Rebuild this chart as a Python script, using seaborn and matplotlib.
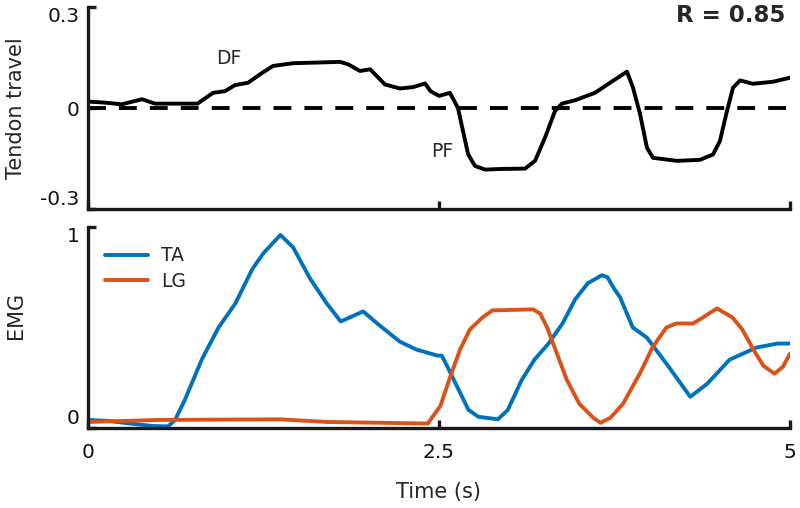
import matplotlib
matplotlib.use("Agg")
import matplotlib.pyplot as plt
import seaborn as sns
import numpy as np

# tendon travel (top panel)
tendon_t = [0.0, 0.12, 0.24, 0.385, 0.477, 0.78, 0.89, 0.976, 1.047, 1.14, 1.225, 1.318,
            1.46, 1.795, 1.852, 1.937, 2.01, 2.115, 2.222, 2.315, 2.40, 2.44, 2.50, 2.578,
            2.635, 2.707, 2.756, 2.828, 2.949, 3.113, 3.184, 3.255, 3.326, 3.376, 3.469,
            3.611, 3.718, 3.839, 3.882, 3.932, 3.981, 4.024, 4.195, 4.359, 4.452, 4.501,
            4.551, 4.594, 4.644, 4.736, 4.879, 5.0]
tendon_v = [0.019, 0.016, 0.011, 0.026, 0.013, 0.013, 0.045, 0.05, 0.068, 0.075, 0.10, 0.125,
            0.133, 0.137, 0.13, 0.11, 0.115, 0.07, 0.058, 0.062, 0.073, 0.05, 0.036, 0.045,
            0.0, -0.137, -0.172, -0.183, -0.181, -0.18, -0.157, -0.088, -0.009, 0.013, 0.023,
            0.045, 0.075, 0.108, 0.06, -0.018, -0.118, -0.148, -0.157, -0.154, -0.138, -0.098,
            -0.009, 0.06, 0.082, 0.072, 0.078, 0.09]

# EMG (bottom panel)
ta_t = [0.0, 0.15, 0.30, 0.46, 0.57, 0.62, 0.69, 0.81, 0.93, 1.05, 1.17, 1.25, 1.37, 1.46,
        1.58, 1.70, 1.80, 1.96, 2.06, 2.22, 2.34, 2.49, 2.52, 2.56, 2.64, 2.71, 2.78, 2.92,
        2.99, 3.09, 3.18, 3.28, 3.38, 3.47, 3.56, 3.66, 3.70, 3.75, 3.79, 3.88, 3.98, 4.12,
        4.29, 4.41, 4.57, 4.76, 4.91, 5.0]
ta_v = [0.04, 0.035, 0.022, 0.01, 0.008, 0.04, 0.14, 0.34, 0.50, 0.62, 0.79, 0.87, 0.96, 0.90,
        0.745, 0.62, 0.53, 0.58, 0.52, 0.43, 0.39, 0.36, 0.36, 0.305, 0.19, 0.09, 0.056, 0.043,
        0.09, 0.24, 0.34, 0.42, 0.52, 0.64, 0.72, 0.76, 0.75, 0.69, 0.65, 0.50, 0.45, 0.32,
        0.155, 0.22, 0.34, 0.40, 0.42, 0.42]

lg_t = [0.0, 0.5, 1.37, 1.70, 2.17, 2.42, 2.51, 2.58, 2.65, 2.72, 2.81, 2.88, 3.17, 3.22,
        3.27, 3.34, 3.41, 3.50, 3.60, 3.65, 3.72, 3.81, 3.93, 4.02, 4.12, 4.19, 4.31, 4.38,
        4.48, 4.59, 4.66, 4.74, 4.81, 4.89, 4.95, 5.0]
lg_v = [0.03, 0.04, 0.043, 0.03, 0.025, 0.022, 0.11, 0.255, 0.39, 0.49, 0.55, 0.585, 0.59, 0.57,
        0.50, 0.37, 0.24, 0.12, 0.05, 0.026, 0.05, 0.12, 0.27, 0.40, 0.50, 0.52, 0.52, 0.55,
        0.595, 0.55, 0.49, 0.39, 0.31, 0.27, 0.305, 0.37]

x_ticks = [0, 2.5, 5]
x_tick_labels = ["0", "2.5", "5"]
tendon_ticks = [-0.3, 0, 0.3]
tendon_tick_labels = ["-0.3", "0", "0.3"]
emg_ticks = [0, 1]
emg_tick_labels = ["0", "1"]

TA_COLOR = "#0072BD"
LG_COLOR = "#D95319"
SPINE = "#1a1a1a"

sns.set_style("ticks")
plt.rcParams["font.family"] = ["DejaVu Sans"]

fig = plt.figure(figsize=(8, 5.08), dpi=100)
ax1 = fig.add_axes([0.11, 0.5886, 0.8775, 0.3976])
ax2 = fig.add_axes([0.11, 0.1575, 0.8775, 0.3957])

# top panel
ax1.axhline(0, color="black", lw=2.8, dashes=(4.6, 3.35), zorder=1)
sns.lineplot(x=tendon_t, y=tendon_v, ax=ax1, color="black", lw=2.8, zorder=2)
ax1.set_xlim(0, 5)
ax1.set_ylim(-0.3, 0.3)
ax1.set_yticks(tendon_ticks)
ax1.set_yticklabels(tendon_tick_labels)
ax1.set_xticks(x_ticks)
ax1.set_xticklabels([])
ax1.set_ylabel("Tendon travel", fontsize=15)
ax1.yaxis.set_label_coords(-0.088, 0.5)
ax1.text(1.0, 0.148, "DF", fontsize=13.5, ha="center", va="center")
ax1.text(2.52, -0.128, "PF", fontsize=13.5, ha="center", va="center")

# bottom panel
sns.lineplot(x=ta_t, y=ta_v, ax=ax2, color=TA_COLOR, lw=2.8, label="TA")
sns.lineplot(x=lg_t, y=lg_v, ax=ax2, color=LG_COLOR, lw=2.8, label="LG")
ax2.set_xlim(0, 5)
ax2.set_ylim(0, 1)
ax2.set_yticks(emg_ticks)
ax2.set_yticklabels(emg_tick_labels)
ax2.set_xticks(x_ticks)
ax2.set_xticklabels(x_tick_labels)
ax2.set_ylabel("EMG", fontsize=15)
ax2.yaxis.set_label_coords(-0.088, 0.56)
ax2.set_xlabel("Time (s)", fontsize=15, labelpad=14)
ax2.legend(loc="upper left", bbox_to_anchor=(0.131, 0.515), bbox_transform=fig.transFigure,
           frameon=False, fontsize=13.5, handlelength=2.3, handletextpad=0.7,
           labelspacing=0.35, borderpad=0, borderaxespad=0)

for ax in (ax1, ax2):
    for side in ("top", "right"):
        ax.spines[side].set_visible(False)
    for side in ("left", "bottom"):
        ax.spines[side].set_linewidth(2.4)
        ax.spines[side].set_color(SPINE)
    ax.tick_params(direction="in", length=6, width=2.4, color=SPINE,
                   labelsize=14.5, labelcolor="#111111", pad=6)
ax2.tick_params(axis="x", pad=11)

# the end labels sit inside the axis range, as in the original
for ax in (ax1, ax2):
    labels = ax.get_yticklabels()
    labels[0].set_va("bottom")
    labels[-1].set_va("top")

fig.text(785 / 800, 1 - 16 / 508, "R = 0.85", fontsize=16.5, fontweight="bold",
         ha="right", va="center")

fig.savefig("out.png", dpi=100)
